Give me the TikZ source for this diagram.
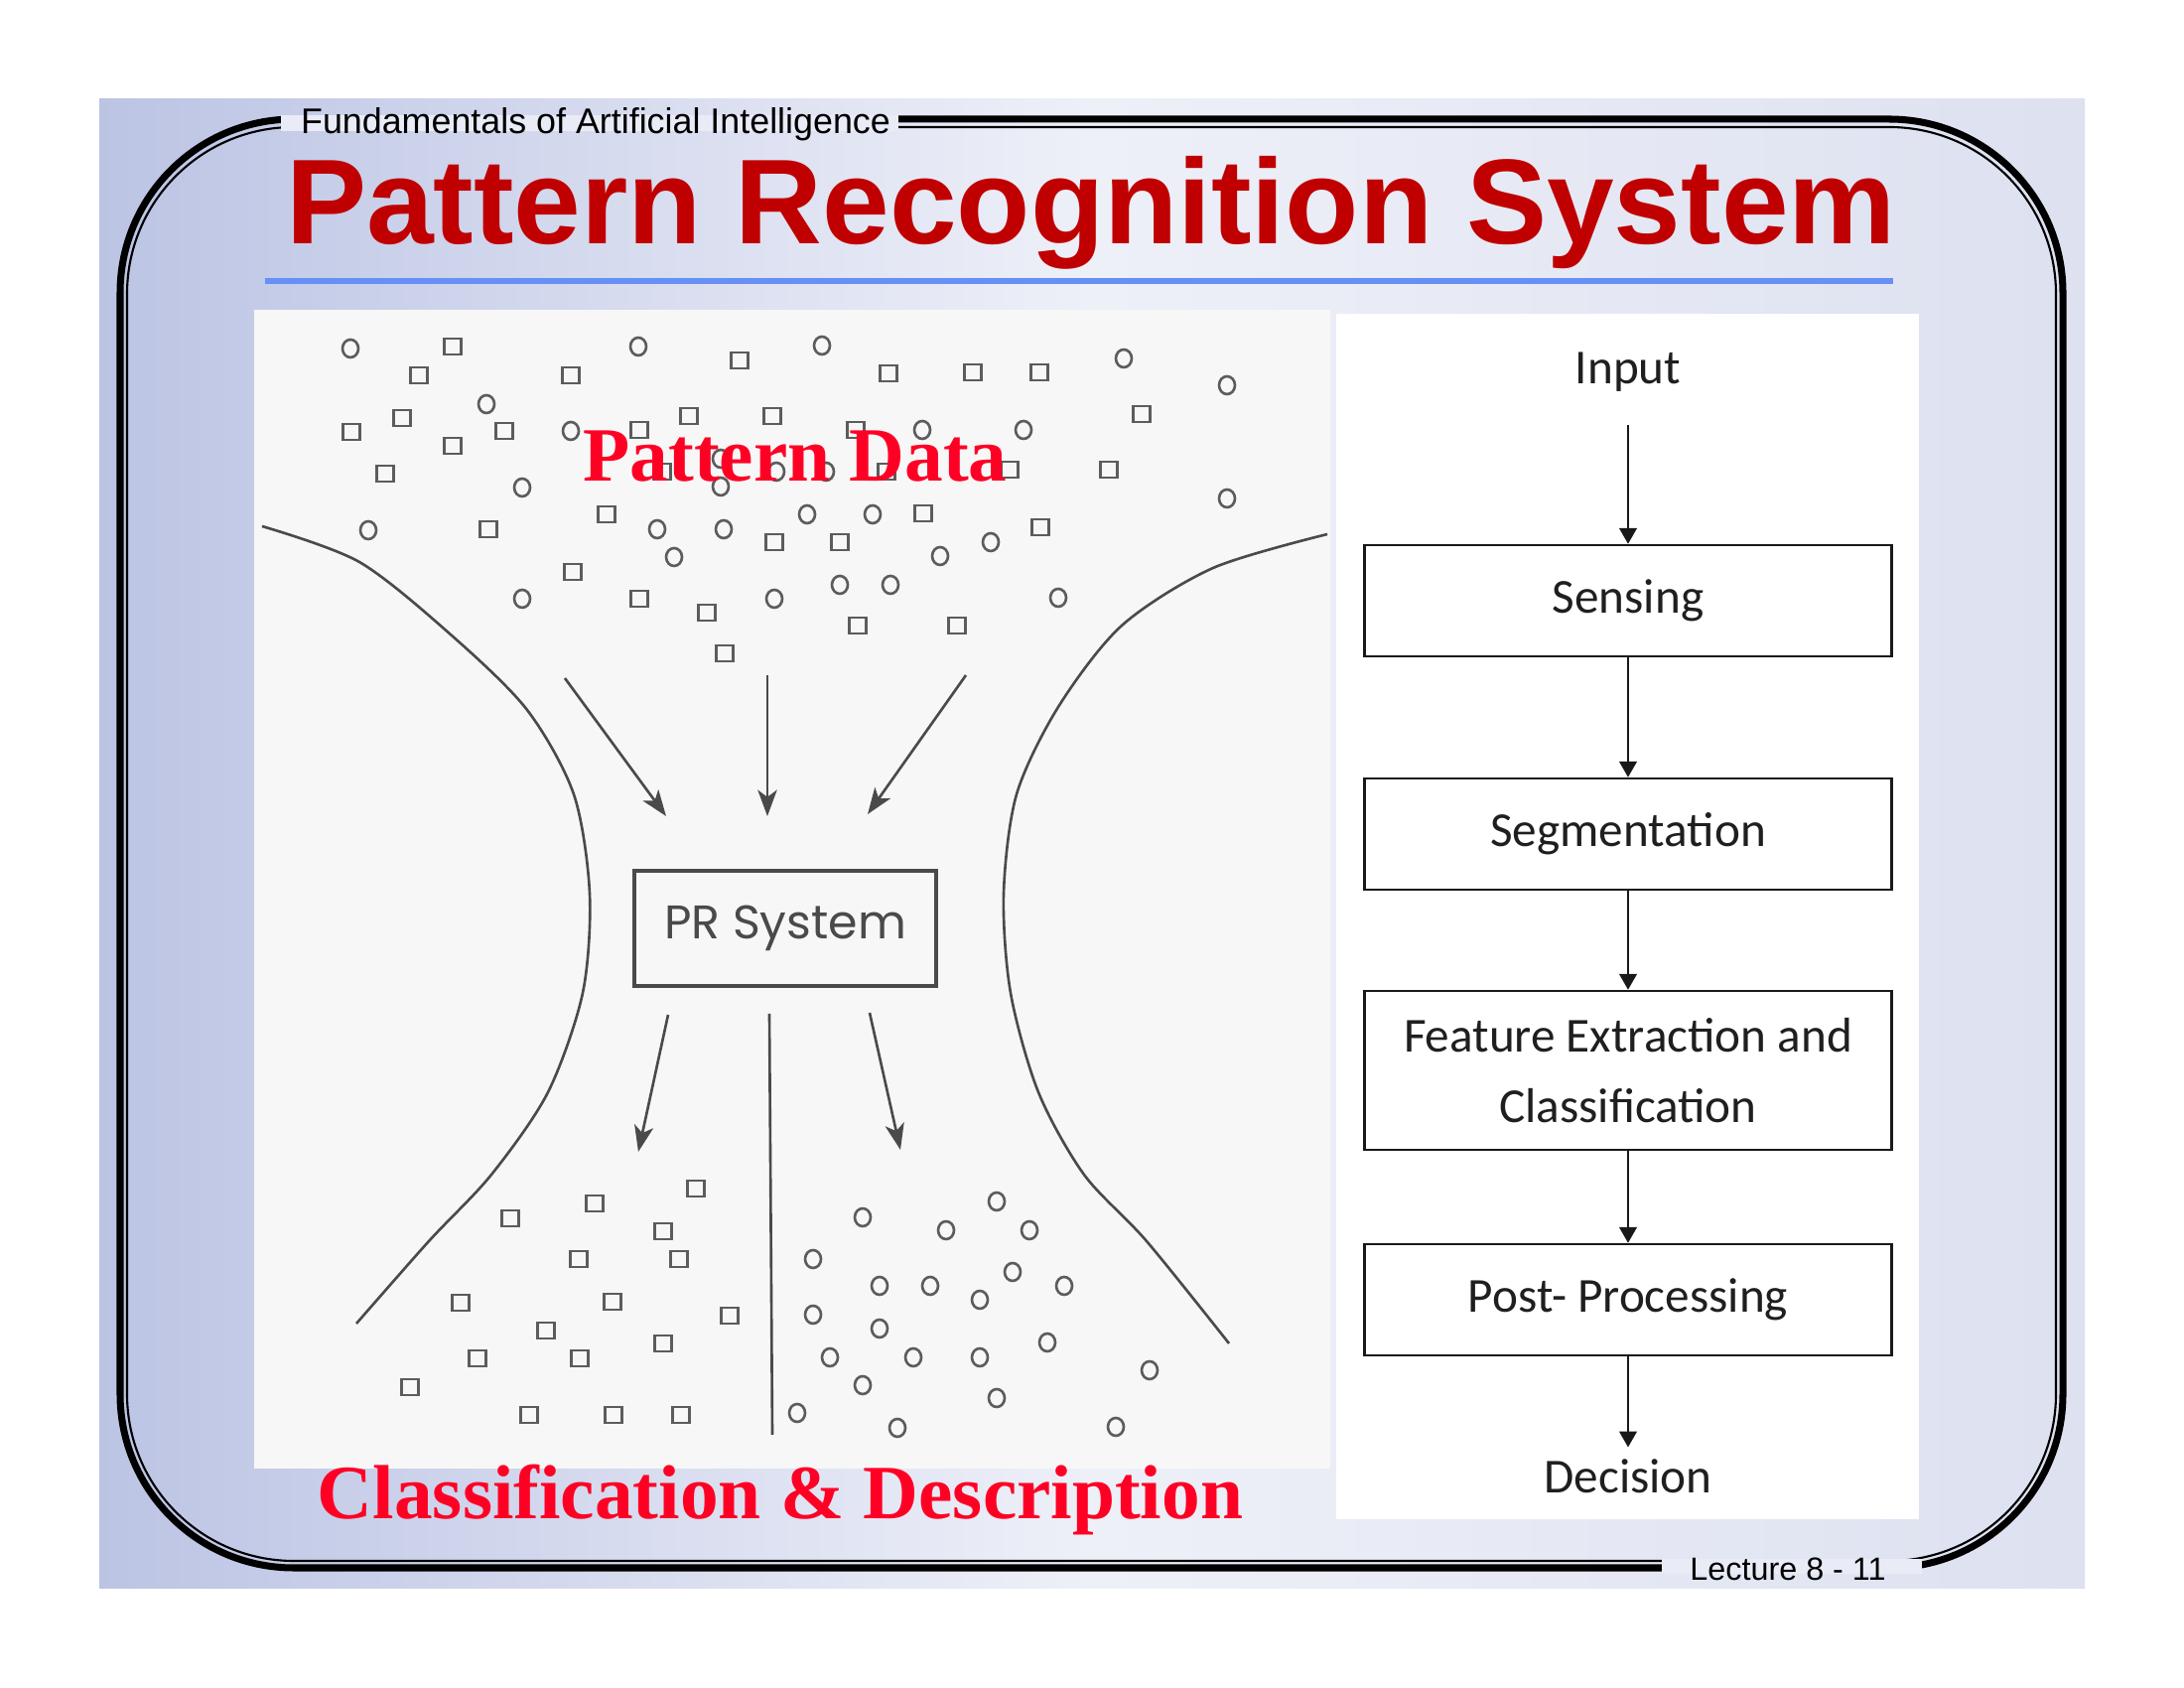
\documentclass[tikz,border=0pt]{standalone}
\usepackage{fontspec}
\setmainfont{Liberation Sans}
\newfontfamily\timesfont{Liberation Serif}
\newfontfamily\flowfont{Carlito}
\newfontfamily\prfont{Poppins}
\usepackage{xcolor}
\usepackage{tikz}
\usetikzlibrary{arrows.meta}
\usetikzlibrary{positioning, shapes.misc}

\definecolor{titlered}{HTML}{C00000}
\definecolor{labelred}{HTML}{FF0025}
\definecolor{rulesblue}{HTML}{6690F5}
\definecolor{scangray}{HTML}{4A4A4A}
\definecolor{markgray}{HTML}{5C5C5C}
\definecolor{slideA}{HTML}{BCC4E4}
\definecolor{slideB}{HTML}{EEF0F8}
\definecolor{slideC}{HTML}{DDE1F0}
\definecolor{tagfill}{HTML}{E9ECF7}

\begin{document}
\begin{tikzpicture}[x=0.1mm, y=-0.1mm,
    flowbox/.style={draw=black!90, line width=0.7pt, minimum width=53.1mm, minimum height=11.2mm,
        font=\flowfont\fontsize{14}{20}\selectfont, text=black!88, align=center},
    flowtext/.style={font=\flowfont\fontsize{14}{20}\selectfont, text=black!88},
    flowarrow/.style={-{Triangle[length=4.5pt,width=5pt]}, line width=0.6pt, black!90},
    scanline/.style={draw=scangray, line width=0.75pt},
    scanarrow/.style={scanline, -{Stealth[length=7.5pt,width=5.5pt,inset=2pt]}},
    sqmark/.style={draw=markgray, line width=0.75pt},
    circmark/.style={draw=markgray, line width=0.75pt},
    redlabel/.style={text=labelred, font=\timesfont\bfseries\fontsize{22}{26}\selectfont, inner sep=0pt, anchor=base}]

    \useasboundingbox (0,0) rectangle (2200,1700);
    \fill[white] (0,0) rectangle (2200,1700);
    \shade[left color=slideA, right color=slideC, middle color=slideB] (100,100) rectangle (2100,1600);

    % slide frame
    \draw[line width=2pt, rounded corners=17.5mm] (121,120) rectangle (2078,1579);
    \draw[line width=0.6pt, rounded corners=16.8mm] (128,128) rectangle (2071,1572);

    % header
    \fill[tagfill] (283,116) rectangle (905,132);
    \node[anchor=base, inner sep=0pt, font=\fontsize{10.2}{12}\selectfont] (course) at (600,135) {Fundamentals of Artificial Intelligence};
    \node[anchor=base, inner sep=0pt, text=titlered, font=\bfseries\fontsize{34.6}{40}\selectfont] (title) at (1099,246) {Pattern Recognition System};
    \draw[rulesblue, line width=1.7pt] (267,283) -- (1907,283);

    % pictures
    \fill[white!97!black] (256,312) rectangle (1340,1479);
    \fill[white] (1346,316) rectangle (1933,1530);

    % pattern data
    \foreach \x/\y in {456/349, 745/363, 422/378, 575/378, 895/376, 980/375, 1047/375, 405/421, 694/419,
        778/419, 1150/417, 354/435, 508/434, 644/433, 862/433, 456/449, 388/477, 667/475, 893/475,
        1017/473, 1117/473, 611/518, 930/517, 492/533, 1048/531, 780/546, 846/546, 577/576, 644/603,
        712/617, 864/630, 964/630, 730/658}
        \draw[sqmark] (\x-8.5,\y-8) rectangle (\x+8.5,\y+8);
    \foreach \x/\y in {353/351, 643/349, 828/348, 1132/361, 1236/388, 490/407, 575/434, 929/433, 1031/433,
        726/462, 726/490, 782/475, 832/475, 526/491, 1236/502, 813/518, 879/518, 371/534, 662/533,
        729/533, 998/546, 679/561, 947/560, 846/589, 897/589, 526/603, 780/603, 1066/602}
        \draw[circmark] (\x,\y) ellipse[x radius=0.8mm, y radius=0.9mm];

    % classified data
    \foreach \x/\y in {701/1197, 599/1212, 514/1227, 668/1240, 583/1268, 684/1268, 464/1312, 617/1311,
        735/1325, 550/1340, 668/1353, 481/1368, 584/1368, 413/1397, 533/1425, 618/1425, 686/1425}
        \draw[sqmark] (\x-8.5,\y-8) rectangle (\x+8.5,\y+8);
    \foreach \x/\y in {1004/1210, 869/1226, 953/1239, 1037/1239, 819/1268, 1020/1281, 886/1295, 937/1295,
        1072/1295, 987/1309, 819/1324, 886/1338, 1055/1352, 836/1367, 920/1367, 987/1367, 1158/1380,
        869/1395, 1004/1408, 803/1423, 904/1438, 1124/1437}
        \draw[circmark] (\x,\y) ellipse[x radius=0.8mm, y radius=0.9mm];

    % funnel
    \draw[scanline] plot[smooth] coordinates {(264,530) (362,566) (455,640) (531,715) (578,800) (594,900)
        (587,1000) (552,1100) (495,1183) (432,1250) (359,1333)};
    \draw[scanline] plot[smooth] coordinates {(1337,538) (1222,572) (1130,630) (1066,712) (1024,800) (1011,900)
        (1018,1000) (1046,1100) (1092,1183) (1155,1250) (1238,1353)};

    \node[draw=scangray, line width=0.9pt, minimum width=30.4mm, minimum height=11.6mm,
        font=\prfont\fontsize{13.5}{15}\selectfont, text=scangray] (prsys) at (791,935) {PR System};

    \coordinate (inL) at (569,683);   \coordinate (inLend) at (671,822);
    \coordinate (inC) at (773,680);   \coordinate (inCend) at (773,822);
    \coordinate (inR) at (973,680);   \coordinate (inRend) at (874,820);
    \coordinate (outL) at (673,1022); \coordinate (outLend) at (643,1160);
    \coordinate (outR) at (876,1020); \coordinate (outRend) at (907,1158);
    \coordinate (divTop) at (775,1021); \coordinate (divBot) at (778,1445);
    \draw[scanarrow] (inL) -- (inLend);
    \draw[scanarrow] (inC) -- (inCend);
    \draw[scanarrow] (inR) -- (inRend);
    \draw[scanarrow] (outL) -- (outLend);
    \draw[scanarrow] (outR) -- (outRend);
    \draw[scanline] (divTop) -- (divBot);

    \node[redlabel] (patdata) at (801,485) {Pattern Data};
    \node[redlabel] (classdesc) at (786,1530) {Classification \& Description};

    % stages
    \node[flowtext] (input) at (1640,375) {Input};
    \node[flowbox] (sensing) at (1640,605) {Sensing};
    \node[flowbox] (segment) at (1640,840) {Segmentation};
    \node[flowbox, minimum height=16mm] (feature) at (1640,1078) {Feature Extraction and\\Classification};
    \node[flowbox] (postproc) at (1640,1309) {Post- Processing};
    \node[flowtext] (decision) at (1640,1487) {Decision};
    \draw[flowarrow, shorten <=6pt] (input) -- (sensing);
    \draw[flowarrow] (sensing) -- (segment);
    \draw[flowarrow] (segment) -- (feature);
    \draw[flowarrow] (feature) -- (postproc);
    \draw[flowarrow] (postproc) -- (decision);

    % footer
    \fill[tagfill] (1674,1570) rectangle (1936,1585);
    \node[anchor=base, inner sep=0pt, font=\fontsize{9.2}{11}\selectfont] (lecture) at (1801,1592) {Lecture 8 - 11};
\end{tikzpicture}
\end{document}
